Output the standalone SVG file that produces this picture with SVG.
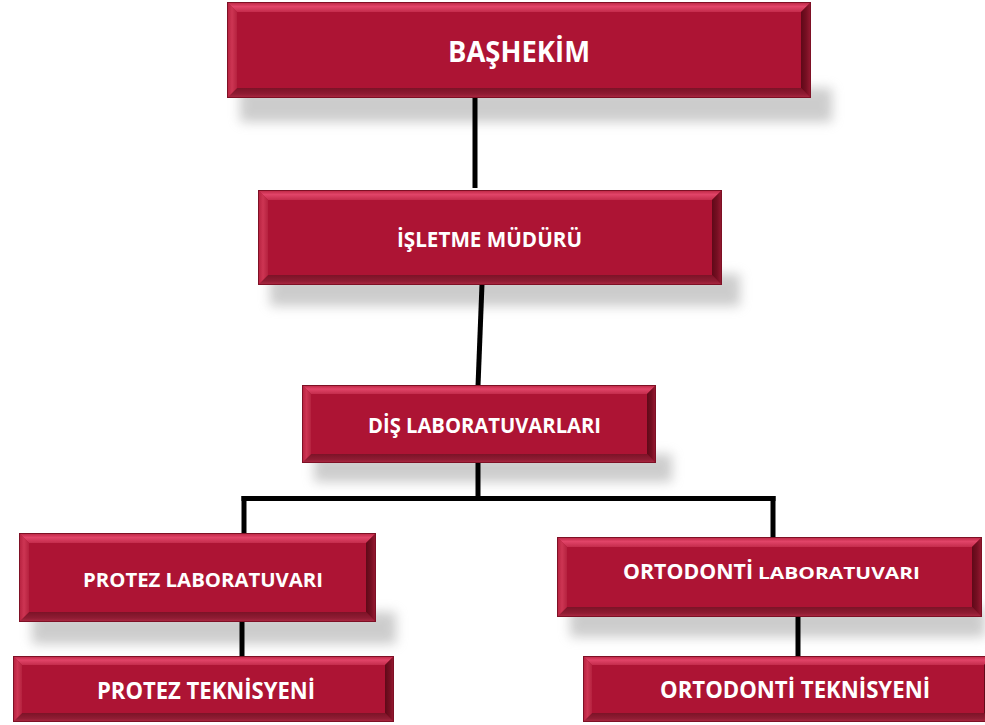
<svg xmlns="http://www.w3.org/2000/svg" width="985" height="725" viewBox="0 0 985 725">
<style>
.face{fill:#ad1434;}
.edge{fill:none;stroke:#7e1025;stroke-width:1;}
.bt{fill:url(#gTop);}
.bb{fill:url(#gBot);}
.bl{fill:url(#gLeft);}
.br{fill:url(#gRight);}
.sh{fill:#9a9a9a;opacity:0.5;filter:url(#blur);}
.lbl{font-family:"Open Sans","Liberation Sans",sans-serif;font-weight:700;fill:#ffffff;}
.conn line{stroke:#000;stroke-width:5;stroke-linecap:butt;}
</style>
<defs>
<filter id="blur" x="-10%" y="-60%" width="120%" height="220%"><feGaussianBlur stdDeviation="6"/></filter>
<linearGradient id="gTop" x1="0" y1="0" x2="0" y2="1">
<stop offset="0" stop-color="#b82340"/><stop offset="0.45" stop-color="#e14468"/><stop offset="1" stop-color="#c42c4c"/>
</linearGradient>
<linearGradient id="gBot" x1="0" y1="0" x2="0" y2="1">
<stop offset="0" stop-color="#7c1327"/><stop offset="0.6" stop-color="#8f1c33"/><stop offset="1" stop-color="#b02a44"/>
</linearGradient>
<linearGradient id="gLeft" x1="0" y1="0" x2="1" y2="0">
<stop offset="0" stop-color="#b41f3d"/><stop offset="0.5" stop-color="#cd3553"/><stop offset="1" stop-color="#b5223f"/>
</linearGradient>
<linearGradient id="gRight" x1="0" y1="0" x2="1" y2="0">
<stop offset="0" stop-color="#5f0918"/><stop offset="0.5" stop-color="#760f22"/><stop offset="1" stop-color="#9a1a33"/>
</linearGradient>
</defs>
<rect width="985" height="725" fill="#ffffff"/>

<g id="shadows">
<rect class="sh" x="240" y="88" width="592" height="34"/>
<rect class="sh" x="270" y="274" width="470" height="32"/>
<rect class="sh" x="314" y="454" width="358" height="28"/>
<rect class="sh" x="32" y="612" width="364" height="32"/>
<rect class="sh" x="570" y="607" width="415" height="30"/>
</g>

<g class="conn" id="connectors">
<line x1="475" y1="96" x2="475" y2="188"/>
<line x1="482" y1="284" x2="478" y2="386"/>
<line x1="478" y1="462" x2="478" y2="500"/>
<line x1="241.5" y1="498.5" x2="775.5" y2="498.5"/>
<line x1="244" y1="496" x2="244" y2="537"/>
<line x1="773" y1="496" x2="773" y2="539"/>
<line x1="242" y1="620" x2="242" y2="657"/>
<line x1="798" y1="616" x2="798" y2="657"/>
</g>

<g id="n1">
<rect class="face" x="227" y="2" width="584" height="96"/>
<polygon class="bt" points="227,2 811,2 801,12 237,12"/>
<polygon class="bb" points="237,88 801,88 811,98 227,98"/>
<polygon class="bl" points="227,2 237,12 237,88 227,98"/>
<polygon class="br" points="801,12 811,2 811,98 801,88"/>
<rect class="edge" x="227.5" y="2.5" width="583" height="95"/>
<text class="lbl" x="448" y="62" font-size="28" textLength="142" lengthAdjust="spacingAndGlyphs">BAŞHEKİM</text>
</g>

<g id="n2">
<rect class="face" x="258" y="190" width="464" height="95"/>
<polygon class="bt" points="258,190 722,190 712,200 268,200"/>
<polygon class="bb" points="268,275 712,275 722,285 258,285"/>
<polygon class="bl" points="258,190 268,200 268,275 258,285"/>
<polygon class="br" points="712,200 722,190 722,285 712,275"/>
<rect class="edge" x="258.5" y="190.5" width="463" height="94"/>
<text class="lbl" x="397" y="247" font-size="21" textLength="185" lengthAdjust="spacingAndGlyphs">İŞLETME MÜDÜRÜ</text>
</g>

<g id="n3">
<rect class="face" x="302" y="385" width="354" height="78"/>
<polygon class="bt" points="302,385 656,385 647,394 311,394"/>
<polygon class="bb" points="311,454 647,454 656,463 302,463"/>
<polygon class="bl" points="302,385 311,394 311,454 302,463"/>
<polygon class="br" points="647,394 656,385 656,463 647,454"/>
<rect class="edge" x="302.5" y="385.5" width="353" height="77"/>
<text class="lbl" x="368" y="433" font-size="20.5" textLength="233" lengthAdjust="spacingAndGlyphs">DİŞ LABORATUVARLARI</text>
</g>

<g id="n4">
<rect class="face" x="19" y="533" width="357" height="89"/>
<polygon class="bt" points="19,533 376,533 366,543 29,543"/>
<polygon class="bb" points="29,612 366,612 376,622 19,622"/>
<polygon class="bl" points="19,533 29,543 29,612 19,622"/>
<polygon class="br" points="366,543 376,533 376,622 366,612"/>
<rect class="edge" x="19.5" y="533.5" width="356" height="88"/>
<text class="lbl" x="83" y="587" font-size="19.5" textLength="240" lengthAdjust="spacingAndGlyphs">PROTEZ LABORATUVARI</text>
</g>

<g id="n5">
<rect class="face" x="557" y="537" width="425" height="80"/>
<polygon class="bt" points="557,537 982,537 972,547 567,547"/>
<polygon class="bb" points="567,607 972,607 982,617 557,617"/>
<polygon class="bl" points="557,537 567,547 567,607 557,617"/>
<polygon class="br" points="972,547 982,537 982,617 972,607"/>
<rect class="edge" x="557.5" y="537.5" width="424" height="79"/>
<text class="lbl" y="579"><tspan x="623" font-size="22" textLength="130" lengthAdjust="spacingAndGlyphs">ORTODONTİ</tspan><tspan x="758" font-size="16.5" textLength="162" lengthAdjust="spacingAndGlyphs">LABORATUVARI</tspan></text>
</g>

<g id="n6">
<rect class="face" x="13" y="656" width="381" height="66"/>
<polygon class="bt" points="13,656 394,656 385,665 22,665"/>
<polygon class="bb" points="22,713 385,713 394,722 13,722"/>
<polygon class="bl" points="13,656 22,665 22,713 13,722"/>
<polygon class="br" points="385,665 394,656 394,722 385,713"/>
<rect class="edge" x="13.5" y="656.5" width="380" height="65"/>
<text class="lbl" x="97" y="699" font-size="24" textLength="218" lengthAdjust="spacingAndGlyphs">PROTEZ TEKNİSYENİ</text>
</g>

<g id="n7">
<rect class="face" x="583" y="656" width="410" height="66"/>
<polygon class="bt" points="583,656 993,656 984,665 592,665"/>
<polygon class="bb" points="592,713 984,713 993,722 583,722"/>
<polygon class="bl" points="583,656 592,665 592,713 583,722"/>
<polygon class="br" points="984,665 993,656 993,722 984,713"/>
<rect class="edge" x="583.5" y="656.5" width="409" height="65"/>
<text class="lbl" x="660" y="698" font-size="24" textLength="270" lengthAdjust="spacingAndGlyphs">ORTODONTİ TEKNİSYENİ</text>
</g>
</svg>
